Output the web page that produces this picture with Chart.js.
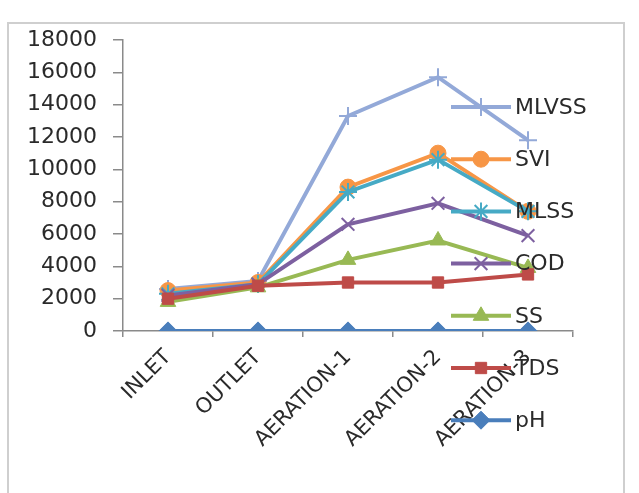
<!DOCTYPE html>
<html>
<head>
<meta charset="utf-8">
<script src="https://cdn.jsdelivr.net/npm/chart.js@4.4.0/dist/chart.umd.min.js"></script>
<style>
  html, body { margin: 0; padding: 0; background: #fff; }
  #frame { position: absolute; left: 7px; top: 22px; width: 614px; height: 480px; border: 2px solid #cfcfcf; }
  #wrap { position: absolute; left: 0; top: 0; width: 639px; height: 493px; }
</style>
</head>
<body>
<div id="frame"></div>
<div id="wrap"><canvas id="c" width="639" height="493"></canvas></div>
<script>
// données
const categories = ['INLET', 'OUTLET', 'AERATION-1', 'AERATION-2', 'AERATION-3'];
const pH    = [7, 7, 7, 7, 7];
const TDS   = [2000, 2800, 3000, 3000, 3500];
const SS    = [1800, 2700, 4400, 5600, 3900];
const COD   = [2200, 2900, 6600, 7900, 5900];
const MLSS  = [2300, 2900, 8600, 10600, 7400];
const SVI   = [2500, 3000, 8900, 11000, 7400];
const MLVSS = [2600, 3100, 13300, 15700, 11800];
const yTicks = [0, 2000, 4000, 6000, 8000, 10000, 12000, 14000, 16000, 18000];

const FONT = 'DejaVu Sans';
const TXT = '#2a2a2a';

function serie(label, data, color, style, radius, lineOnly) {
  return {
    label, data,
    borderColor: color,
    backgroundColor: color,
    pointBackgroundColor: color,
    pointBorderColor: color,
    pointStyle: style,
    pointRadius: radius,
    pointBorderWidth: lineOnly ? 2 : 1,
    borderWidth: 4,
    tension: 0,
    fill: false
  };
}

const datasets = [
  serie('pH', pH, '#4A7EBB', 'rectRot', 9),
  serie('TDS', TDS, '#BE4B48', 'rect', 8),
  serie('SS', SS, '#98B954', 'triangle', 9),
  serie('COD', COD, '#7D60A0', 'crossRot', 9, true),
  serie('MLSS', MLSS, '#46AAC5', 'star', 9, true),
  serie('SVI', SVI, '#F79646', 'circle', 8),
  serie('MLVSS', MLVSS, '#93A9D8', 'cross', 9, true)
];

// légende dessinée par-dessus le tracé, comme dans l'original
const legendeSurTrace = {
  id: 'legendeSurTrace',
  afterDatasetsDraw(chart) {
    const ctx = chart.ctx;
    const area = chart.chartArea;
    const x0 = area.right - 122;
    let y = area.top + 67;
    const items = chart.data.datasets.slice().reverse();
    ctx.save();
    items.forEach(ds => {
      ctx.strokeStyle = ds.borderColor;
      ctx.lineWidth = 4;
      ctx.beginPath();
      ctx.moveTo(x0, y);
      ctx.lineTo(x0 + 60, y);
      ctx.stroke();
      ctx.fillStyle = ds.pointBackgroundColor;
      ctx.strokeStyle = ds.pointBorderColor;
      ctx.lineWidth = ds.pointBorderWidth;
      Chart.helpers.drawPoint(ctx, { pointStyle: ds.pointStyle, radius: ds.pointRadius, rotation: 0, borderWidth: ds.pointBorderWidth }, x0 + 30, y);
      ctx.fillStyle = TXT;
      ctx.font = '22px "' + FONT + '"';
      ctx.textAlign = 'left';
      ctx.textBaseline = 'middle';
      ctx.fillText(ds.label, x0 + 64, y + 1);
      y += 52.2;
    });
    ctx.restore();
  }
};

new Chart(document.getElementById('c'), {
  type: 'line',
  data: { labels: categories, datasets },
  plugins: [legendeSurTrace],
  options: {
    responsive: false,
    animation: false,
    layout: { padding: { top: 40, right: 66, bottom: 0, left: 0 } },
    plugins: { legend: { display: false }, tooltip: { enabled: false } },
    scales: {
      y: {
        min: 0, max: 18000,
        afterFit(s) { s.width = 123; },
        afterBuildTicks(s) { s.ticks = yTicks.map(v => ({ value: v })); },
        grid: { drawOnChartArea: false, drawTicks: true, tickLength: 10, color: '#8a8a8a', lineWidth: 1.5 },
        border: { color: '#8a8a8a', width: 1.5 },
        ticks: { padding: 16, color: TXT, font: { family: FONT, size: 22 }, callback: v => String(v) }
      },
      x: {
        offset: true,
        afterFit(s) { s.height = 162; },
        grid: { offset: true, drawOnChartArea: false, drawTicks: true, tickLength: 6, color: '#8a8a8a', lineWidth: 1.5 },
        border: { color: '#8a8a8a', width: 1.5 },
        ticks: { minRotation: 45, maxRotation: 45, padding: 8, color: TXT, font: { family: FONT, size: 21 } }
      }
    }
  }
});
</script>
</body>
</html>
